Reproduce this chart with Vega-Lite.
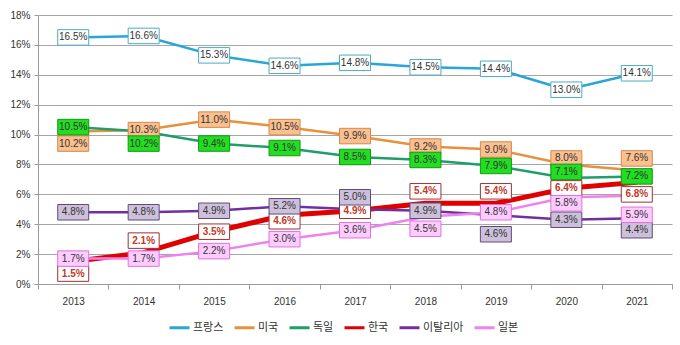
{
  "$schema": "https://vega.github.io/schema/vega-lite/v6.json",
  "width": 634,
  "height": 269,
  "autosize": {"type": "none"},
  "padding": {"left": 38, "top": 15, "right": 8, "bottom": 61},
  "background": "white",
  "config": {
    "font": "Liberation Sans",
    "view": {"stroke": null}
  },
  "data": {
    "values": [
      {"year": "2013", "country": "프랑스", "v": 0.165, "pos": "c"},
      {"year": "2014", "country": "프랑스", "v": 0.166, "pos": "c"},
      {"year": "2015", "country": "프랑스", "v": 0.153, "pos": "c"},
      {"year": "2016", "country": "프랑스", "v": 0.146, "pos": "c"},
      {"year": "2017", "country": "프랑스", "v": 0.148, "pos": "c"},
      {"year": "2018", "country": "프랑스", "v": 0.145, "pos": "c"},
      {"year": "2019", "country": "프랑스", "v": 0.144, "pos": "c"},
      {"year": "2020", "country": "프랑스", "v": 0.130, "pos": "c"},
      {"year": "2021", "country": "프랑스", "v": 0.141, "pos": "c"},
      {"year": "2013", "country": "미국", "v": 0.102, "pos": "b"},
      {"year": "2014", "country": "미국", "v": 0.103, "pos": "c"},
      {"year": "2015", "country": "미국", "v": 0.110, "pos": "c"},
      {"year": "2016", "country": "미국", "v": 0.105, "pos": "c"},
      {"year": "2017", "country": "미국", "v": 0.099, "pos": "c"},
      {"year": "2018", "country": "미국", "v": 0.092, "pos": "c"},
      {"year": "2019", "country": "미국", "v": 0.090, "pos": "c"},
      {"year": "2020", "country": "미국", "v": 0.080, "pos": "a1"},
      {"year": "2021", "country": "미국", "v": 0.076, "pos": "a"},
      {"year": "2013", "country": "독일", "v": 0.105, "pos": "c"},
      {"year": "2014", "country": "독일", "v": 0.102, "pos": "b"},
      {"year": "2015", "country": "독일", "v": 0.094, "pos": "c"},
      {"year": "2016", "country": "독일", "v": 0.091, "pos": "c"},
      {"year": "2017", "country": "독일", "v": 0.085, "pos": "c"},
      {"year": "2018", "country": "독일", "v": 0.083, "pos": "c"},
      {"year": "2019", "country": "독일", "v": 0.079, "pos": "c"},
      {"year": "2020", "country": "독일", "v": 0.071, "pos": "a1"},
      {"year": "2021", "country": "독일", "v": 0.072, "pos": "c"},
      {"year": "2013", "country": "한국", "v": 0.015, "pos": "b"},
      {"year": "2014", "country": "한국", "v": 0.021, "pos": "a"},
      {"year": "2015", "country": "한국", "v": 0.035, "pos": "c"},
      {"year": "2016", "country": "한국", "v": 0.046, "pos": "b1"},
      {"year": "2017", "country": "한국", "v": 0.049, "pos": "c"},
      {"year": "2018", "country": "한국", "v": 0.054, "pos": "a"},
      {"year": "2019", "country": "한국", "v": 0.054, "pos": "a"},
      {"year": "2020", "country": "한국", "v": 0.064, "pos": "c"},
      {"year": "2021", "country": "한국", "v": 0.068, "pos": "b"},
      {"year": "2013", "country": "이탈리아", "v": 0.048, "pos": "c"},
      {"year": "2014", "country": "이탈리아", "v": 0.048, "pos": "c"},
      {"year": "2015", "country": "이탈리아", "v": 0.049, "pos": "c"},
      {"year": "2016", "country": "이탈리아", "v": 0.052, "pos": "c"},
      {"year": "2017", "country": "이탈리아", "v": 0.050, "pos": "a"},
      {"year": "2018", "country": "이탈리아", "v": 0.049, "pos": "c"},
      {"year": "2019", "country": "이탈리아", "v": 0.046, "pos": "b2"},
      {"year": "2020", "country": "이탈리아", "v": 0.043, "pos": "c"},
      {"year": "2021", "country": "이탈리아", "v": 0.044, "pos": "b"},
      {"year": "2013", "country": "일본", "v": 0.017, "pos": "c"},
      {"year": "2014", "country": "일본", "v": 0.017, "pos": "c"},
      {"year": "2015", "country": "일본", "v": 0.022, "pos": "c"},
      {"year": "2016", "country": "일본", "v": 0.030, "pos": "c"},
      {"year": "2017", "country": "일본", "v": 0.036, "pos": "c"},
      {"year": "2018", "country": "일본", "v": 0.045, "pos": "b"},
      {"year": "2019", "country": "일본", "v": 0.048, "pos": "c"},
      {"year": "2020", "country": "일본", "v": 0.058, "pos": "b1"},
      {"year": "2021", "country": "일본", "v": 0.059, "pos": "b2"}
    ]
  },
  "encoding": {
    "x": {
      "field": "year", "type": "ordinal",
      "scale": {"type": "band", "paddingInner": 0, "paddingOuter": 0},
      "axis": {"title": null, "labelAngle": 0, "tickBand": "extent", "grid": false, "domainColor": "#9a9a9a", "tickColor": "#9a9a9a", "tickSize": 5, "labelPadding": 7, "labelFontSize": 10, "labelColor": "#333333"}
    },
    "y": {
      "field": "v", "type": "quantitative",
      "scale": {"domain": [0, 0.18], "nice": false},
      "axis": {"title": null, "format": ".0%", "values": [0, 0.02, 0.04, 0.06, 0.08, 0.1, 0.12, 0.14, 0.16, 0.18], "grid": true, "gridColor": "#a6a6a6", "gridWidth": 1, "domainColor": "#9a9a9a", "tickColor": "#9a9a9a", "tickSize": 4, "labelFontSize": 10, "labelColor": "#333333", "labelPadding": 4}
    }
  },
  "layer": [
    {
      "transform": [{"filter": "indexof(['프랑스','미국','독일'], datum.country) >= 0"}],
      "mark": {"type": "line", "strokeJoin": "round", "strokeWidth": 2.5},
      "encoding": {
        "color": {
          "field": "country", "type": "nominal",
          "scale": {"domain": ["프랑스", "미국", "독일", "한국", "이탈리아", "일본"], "range": ["#2aa6d6", "#e8913c", "#1f9e6c", "#e00000", "#7030a0", "#ee82ee"]},
          "legend": {"orient": "none", "direction": "horizontal", "legendX": 130, "legendY": 301, "title": null, "symbolType": "stroke", "symbolStrokeWidth": 3, "symbolSize": 400, "labelFont": "Noto Sans CJK KR", "labelFontSize": 11, "labelColor": "#333333", "columnPadding": 4, "labelOffset": 2}
        },
        "order": {"field": "year"}
      }
    },
    {
      "transform": [{"filter": "datum.country === '한국'"}],
      "mark": {"type": "line", "strokeJoin": "round", "strokeWidth": 5},
      "encoding": {
        "color": {"field": "country", "type": "nominal"},
        "order": {"field": "year"}
      }
    },
    {
      "transform": [{"filter": "indexof(['이탈리아','일본'], datum.country) >= 0"}],
      "mark": {"type": "line", "strokeJoin": "round", "strokeWidth": 2.5},
      "encoding": {
        "color": {"field": "country", "type": "nominal"},
        "order": {"field": "year"}
      }
    },
    {
      "mark": {"type": "point", "shape": "M-1,-0.5H1V0.5H-1Z", "size": 961, "filled": true, "fillOpacity": 1, "strokeOpacity": 1, "strokeWidth": 1, "opacity": 1,
        "yOffset": {"expr": "datum.pos === 'a' ? -12 : datum.pos === 'a1' ? -6 : datum.pos === 'b1' ? 6 : datum.pos === 'b' ? 12 : datum.pos === 'b2' ? 19 : 0"}},
      "encoding": {
        "fill": {"field": "country", "type": "nominal", "scale": {"domain": ["프랑스", "미국", "독일", "한국", "이탈리아", "일본"], "range": ["#ffffff", "#fac08f", "#22dd22", "#ffffff", "#ccc0da", "#ffccff"]}, "legend": null},
        "stroke": {"field": "country", "type": "nominal", "scale": {"domain": ["프랑스", "미국", "독일", "한국", "이탈리아", "일본"], "range": ["#4bacc6", "#d9864a", "#119911", "#a03030", "#604a7b", "#e070e0"]}, "legend": null}
      }
    },
    {
      "mark": {"type": "text", "fontSize": 10,
        "fontWeight": {"expr": "datum.country === '한국' ? 'bold' : 'normal'"},
        "dy": {"expr": "datum.pos === 'a' ? -12 : datum.pos === 'a1' ? -6 : datum.pos === 'b1' ? 6 : datum.pos === 'b' ? 12 : datum.pos === 'b2' ? 19 : 0"}},
      "encoding": {
        "text": {"field": "v", "type": "quantitative", "format": ".1%"},
        "color": {"condition": {"test": "datum.country === '한국'", "value": "#c0392b"}, "value": "#333333"}
      }
    }
  ]
}
